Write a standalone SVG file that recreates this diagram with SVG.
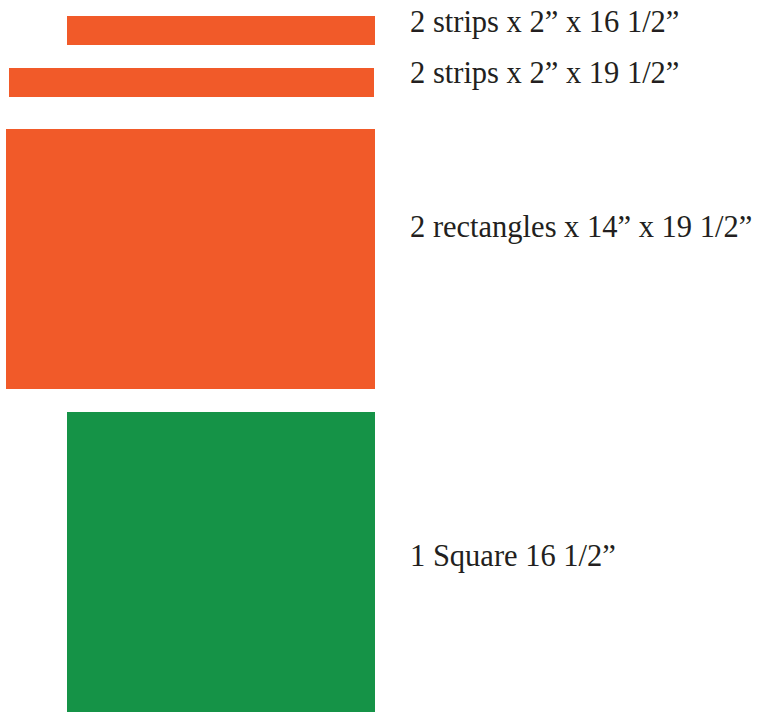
<svg xmlns="http://www.w3.org/2000/svg" width="757" height="712" viewBox="0 0 757 712">
<style>
.o{fill:#F15A29}.g{fill:#159347}
text{font-family:"Liberation Serif",serif;font-size:30.5px;fill:#231F20}
</style>
<rect width="757" height="712" fill="#fff"/>
<g id="strip16"><rect class="o" x="67" y="16" width="308" height="29"/><text x="410" y="31.5">2 strips x 2” x 16 1/2”</text></g>
<g id="strip19"><rect class="o" x="9" y="68" width="365" height="29"/><text x="410" y="83">2 strips x 2” x 19 1/2”</text></g>
<g id="rects"><rect class="o" x="6" y="129" width="369" height="260"/><text x="410" y="236.5">2 rectangles x 14” x 19 1/2”</text></g>
<g id="square"><rect class="g" x="67" y="412" width="308" height="300"/><text x="410" y="566">1 Square 16 1/2”</text></g>
<g id="connectors"/>
</svg>
